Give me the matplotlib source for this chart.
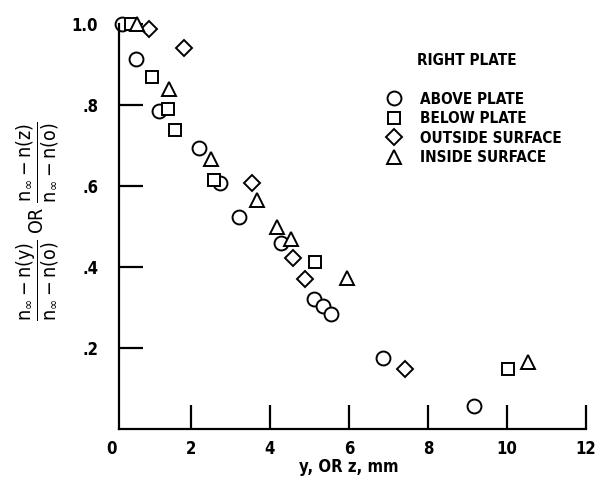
import matplotlib
matplotlib.use("Agg")
import matplotlib.pyplot as plt

# data
above_x = [0.25, 0.61, 1.19, 2.2, 2.73, 3.22, 4.28, 5.11, 5.34, 5.54, 6.86, 9.16]
above_y = [1.0, 0.914, 0.785, 0.694, 0.607, 0.524, 0.459, 0.321, 0.304, 0.284, 0.175, 0.057]

below_x = [0.48, 1.01, 1.42, 1.6, 2.58, 5.14, 10.03]
below_y = [1.0, 0.869, 0.79, 0.738, 0.615, 0.413, 0.148]

outside_x = [0.94, 1.83, 3.55, 4.58, 4.89, 7.43]
outside_y = [0.988, 0.941, 0.607, 0.422, 0.370, 0.148]

inside_x = [0.63, 1.45, 2.5, 3.66, 4.17, 4.53, 5.95, 10.53]
inside_y = [1.0, 0.839, 0.667, 0.565, 0.50, 0.469, 0.373, 0.166]

x_ticks = [0, 2, 4, 6, 8, 10, 12]
x_labels = ["0", "2", "4", "6", "8", "10", "12"]
y_ticks = [0.2, 0.4, 0.6, 0.8, 1.0]
y_labels = [".2", ".4", ".6", ".8", "1.0"]

plt.rcParams['font.family'] = ['DejaVu Sans']
plt.rcParams['font.stretch'] = 'condensed'
plt.rcParams['mathtext.fontset'] = 'custom'
plt.rcParams['mathtext.rm'] = 'DejaVu Sans'
plt.rcParams['mathtext.default'] = 'regular'

fig = plt.figure(figsize=(6.02, 4.88), dpi=100)
ax = fig.add_axes([0.186, 0.1209, 0.7874, 0.8299])

mk = dict(linestyle='none', markerfacecolor='white', markeredgecolor='black',
          markeredgewidth=1.4, clip_on=False)
ax.plot(above_x, above_y, marker='o', markersize=10, label='ABOVE PLATE', **mk)
ax.plot(below_x, below_y, marker='s', markersize=9, label='BELOW PLATE', **mk)
ax.plot(outside_x, outside_y, marker='D', markersize=8, label='OUTSIDE SURFACE', **mk)
ax.plot(inside_x, inside_y, marker='^', markersize=10, label='INSIDE SURFACE', **mk)

ax.set_xlim(0, 12)
ax.set_ylim(0, 1.0)
ax.spines['top'].set_visible(False)
ax.spines['right'].set_visible(False)
ax.spines['left'].set_position(('data', 0.18))
ax.spines['left'].set_linewidth(1.6)
ax.spines['bottom'].set_linewidth(1.6)
ax.spines['bottom'].set_bounds(0.18, 12)

tick_font = dict(fontsize=12, fontweight='bold', fontstretch='condensed')
ax.set_xticks(x_ticks)
ax.set_xticklabels(x_labels, **tick_font)
ax.set_yticks(y_ticks)
ax.set_yticklabels(y_labels, **tick_font)
ax.tick_params(axis='both', direction='in', length=17, width=1.6)
ax.tick_params(axis='x', pad=8)
ax.tick_params(axis='y', pad=15)
ax.xaxis.get_major_ticks()[0].tick1line.set_visible(False)

ax.set_xlabel("y, OR z, mm", labelpad=0, **tick_font)
fig.text(0.062, 0.547,
         r"$\dfrac{n_\infty - n(y)}{n_\infty - n(o)}$" + " OR " +
         r"$\dfrac{n_\infty - n(z)}{n_\infty - n(o)}$",
         rotation=90, ha='center', va='center', fontsize=14)

# legend: title as separate text to get the wider gap
ax.text(0.749, 0.911, "RIGHT PLATE", transform=ax.transAxes, ha='center', va='center',
        fontsize=11, fontweight='bold', fontstretch='condensed')
ax.legend(loc='upper left', bbox_to_anchor=(0.578, 0.833),
          frameon=False, handletextpad=1.25,
          labelspacing=0.3, handlelength=1.0, borderaxespad=0, borderpad=0,
          prop=dict(size=11, weight='bold', stretch='condensed'))

fig.savefig("out.png", dpi=100)
